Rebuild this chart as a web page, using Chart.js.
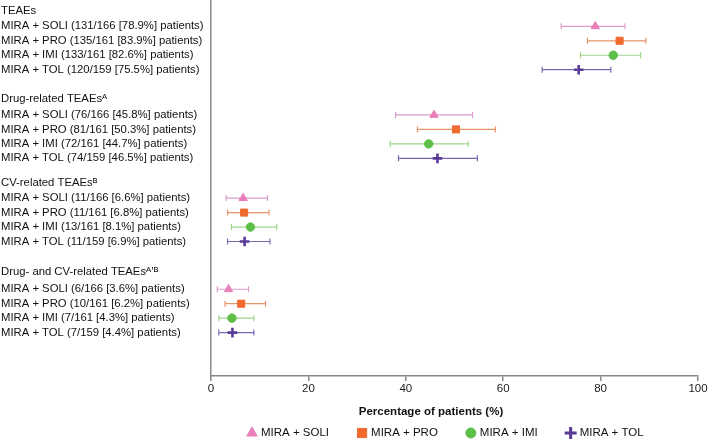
<!DOCTYPE html>
<html>
<head>
<meta charset="utf-8">
<script src="https://cdn.jsdelivr.net/npm/chart.js@4/dist/chart.umd.min.js"></script>
<style>
  html, body { margin: 0; padding: 0; background: #fff; }
  #wrap { width: 709px; height: 440px; }
</style>
</head>
<body>
<div id="wrap"><canvas id="forest"></canvas></div>
<script>
// Groups and row labels
const groupTitles = ['TEAEs', 'Drug-related TEAEs\u1D2C', 'CV-related TEAEs\u1D2E', 'Drug- and CV-related TEAEs\u1D2C\u02BC\u1D2E'];
const rowLabels = [
    ['MIRA + SOLI (131/166 [78.9%] patients)', 'MIRA + PRO (135/161 [83.9%] patients)', 'MIRA + IMI (133/161 [82.6%] patients)', 'MIRA + TOL (120/159 [75.5%] patients)'],
    ['MIRA + SOLI (76/166 [45.8%] patients)', 'MIRA + PRO (81/161 [50.3%] patients)', 'MIRA + IMI (72/161 [44.7%] patients)', 'MIRA + TOL (74/159 [46.5%] patients)'],
    ['MIRA + SOLI (11/166 [6.6%] patients)', 'MIRA + PRO (11/161 [6.8%] patients)', 'MIRA + IMI (13/161 [8.1%] patients)', 'MIRA + TOL (11/159 [6.9%] patients)'],
    ['MIRA + SOLI (6/166 [3.6%] patients)', 'MIRA + PRO (10/161 [6.2%] patients)', 'MIRA + IMI (7/161 [4.3%] patients)', 'MIRA + TOL (7/159 [4.4%] patients)']
];
const seriesNames = ['MIRA + SOLI', 'MIRA + PRO', 'MIRA + IMI', 'MIRA + TOL'];

// Percentages and 95% CI per group (TEAEs, drug-related, CV-related, drug- and CV-related)
const soliPct  = [78.9, 45.8, 6.6, 3.6];
const soliLow  = [71.9, 37.9, 3.1, 1.3];
const soliHigh = [85.0, 53.7, 11.6, 7.7];
const proPct   = [83.9, 50.3, 6.8, 6.2];
const proLow   = [77.3, 42.4, 3.4, 2.9];
const proHigh  = [89.3, 58.4, 11.9, 11.2];
const imiPct   = [82.6, 44.7, 8.1, 4.3];
const imiLow   = [75.9, 36.8, 4.2, 1.6];
const imiHigh  = [88.2, 52.8, 13.5, 8.8];
const tolPct   = [75.5, 46.5, 6.9, 4.4];
const tolLow   = [68.0, 38.5, 3.4, 1.6];
const tolHigh  = [82.1, 54.7, 12.1, 8.8];

const xTicks = [0, 20, 40, 60, 80, 100];

// layout of rows on the y scale (row units)
const groupTop = [0.77, 6.87, 12.67, 18.77];
const firstGap = [1.05, 1.08, 1.03, 1.23];
const rowY = (g, r) => groupTop[g] + firstGap[g] + r;

const tickVals = [];
const tickText = [];
groupTitles.forEach((t, g) => {
    tickVals.push(groupTop[g]); tickText.push(t);
    rowLabels[g].forEach((l, r) => { tickVals.push(rowY(g, r)); tickText.push(l); });
});

const styles = [
    { pct: soliPct, lo: soliLow, hi: soliHigh, point: '#e97fb8', bar: '#dc9ccb', shape: 'triangle', r: 4.8, bw: 1 },
    { pct: proPct,  lo: proLow,  hi: proHigh,  point: '#f06a2e', bar: '#e8946b', shape: 'rect', r: 5, bw: 1 },
    { pct: imiPct,  lo: imiLow,  hi: imiHigh,  point: '#5cbf47', bar: '#9fd68c', shape: 'circle', r: 4.2, bw: 1 },
    { pct: tolPct,  lo: tolLow,  hi: tolHigh,  point: '#5a3b98', bar: '#7a68b4', shape: 'cross', r: 4.8, bw: 2.6 }
];

const datasets = styles.map((s, si) => ({
    label: seriesNames[si],
    data: s.pct.map((v, g) => ({ x: v, y: rowY(g, si), lo: s.lo[g], hi: s.hi[g] })),
    barColor: s.bar,
    pointStyle: s.shape,
    pointRadius: s.r,
    pointBackgroundColor: s.point,
    pointBorderColor: s.point,
    pointBorderWidth: s.bw,
    showLine: false
}));

const FONT = '"Liberation Sans", Arial, "DejaVu Sans", sans-serif';

// horizontal error bars with caps
const errorBars = {
    id: 'errorBars',
    beforeDatasetsDraw(chart) {
        const { ctx, scales: { x, y } } = chart;
        chart.data.datasets.forEach(ds => {
            ctx.save();
            ctx.strokeStyle = ds.barColor;
            ctx.lineWidth = 1.2;
            ds.data.forEach(p => {
                const py = y.getPixelForValue(p.y);
                const x0 = x.getPixelForValue(p.lo);
                const x1 = x.getPixelForValue(p.hi);
                ctx.beginPath();
                ctx.moveTo(x0, py); ctx.lineTo(x1, py);
                ctx.moveTo(x0, py - 3); ctx.lineTo(x0, py + 3);
                ctx.moveTo(x1, py - 3); ctx.lineTo(x1, py + 3);
                ctx.stroke();
            });
            ctx.restore();
        });
    }
};

// axis title + legend under the plot
const bottomText = {
    id: 'bottomText',
    afterDraw(chart) {
        const { ctx, chartArea } = chart;
        ctx.save();
        ctx.fillStyle = '#111';
        ctx.textBaseline = 'middle';
        ctx.textAlign = 'center';
        ctx.font = 'bold 11.5px ' + FONT;
        ctx.fillText('Percentage of patients (%)', 431, chartArea.bottom + 36);

        ctx.font = '11.5px ' + FONT;
        ctx.textAlign = 'left';
        const legY = chartArea.bottom + 57;
        const legR = [6, 6.5, 5, 6];
        let cx = 246;
        styles.forEach((s, i) => {
            ctx.fillStyle = s.point;
            ctx.strokeStyle = s.point;
            ctx.lineWidth = s.shape === 'cross' ? 3 : 1;
            Chart.helpers.drawPoint(ctx, { pointStyle: s.shape, radius: legR[i], borderWidth: ctx.lineWidth, rotation: 0 }, cx + 6, legY);
            ctx.fillStyle = '#111';
            ctx.fillText(seriesNames[i], cx + 15, legY);
            cx += 15 + ctx.measureText(seriesNames[i]).width + 27;
        });
        ctx.restore();
    }
};

new Chart(document.getElementById('forest'), {
    type: 'scatter',
    data: { datasets },
    plugins: [errorBars, bottomText],
    options: {
        responsive: true,
        maintainAspectRatio: false,
        animation: false,
        layout: { autoPadding: false, padding: { left: 1, right: 11, top: 0, bottom: 44 } },
        plugins: { legend: { display: false }, tooltip: { enabled: false } },
        scales: {
            x: {
                type: 'linear',
                min: 0,
                max: 100,
                afterBuildTicks: (scale) => { scale.ticks = xTicks.map(v => ({ value: v })); },
                afterFit: (scale) => { scale.height = 20; },
                ticks: { color: '#222', padding: 1, font: { family: FONT, size: 11.5 } },
                grid: { drawOnChartArea: false, drawTicks: true, tickLength: 5, color: '#888', lineWidth: 1.5 },
                border: { color: '#888', width: 1.5 }
            },
            y: {
                type: 'linear',
                reverse: true,
                min: 0,
                max: 26,
                afterBuildTicks: (scale) => { scale.ticks = tickVals.map(v => ({ value: v })); },
                afterFit: (scale) => { scale.width = 210; scale.paddingTop = 0; scale.paddingBottom = 0; },
                ticks: {
                    autoSkip: false,
                    crossAlign: 'far',
                    color: '#111',
                    font: { family: FONT, size: 11.3 },
                    callback: (v, i) => tickText[i]
                },
                grid: { display: false },
                border: { color: '#888', width: 1.5 }
            }
        }
    }
});
</script>
</body>
</html>
